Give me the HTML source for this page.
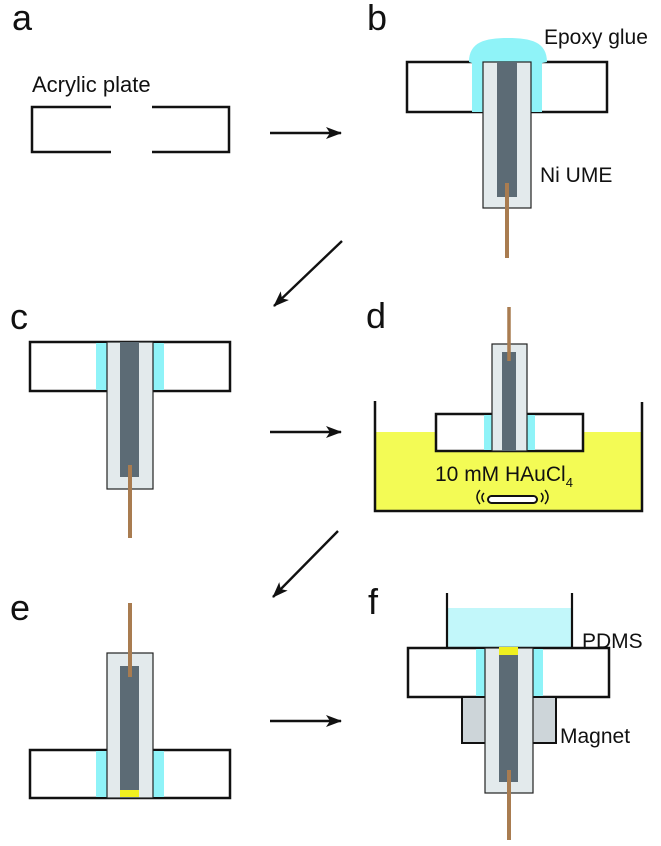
<!DOCTYPE html>
<html><head><meta charset="utf-8"><style>
html,body{margin:0;padding:0;background:#fff}
svg{display:block}
text{font-family:"Liberation Sans",Arial,sans-serif;fill:#111}
</style></head><body>
<svg width="661" height="846" viewBox="0 0 661 846" xmlns="http://www.w3.org/2000/svg">
<defs>
<marker id="ah" markerWidth="16" markerHeight="12" refX="15" refY="6" orient="auto" markerUnits="userSpaceOnUse">
<path d="M0,0 L16,6 L0,12 L4,6 Z" fill="#111"/>
</marker>
</defs>
<g stroke-linecap="butt">
<text x="12" y="30" font-size="36">a</text>
<text x="367" y="30" font-size="36">b</text>
<text x="10" y="329" font-size="36">c</text>
<text x="366" y="328" font-size="36">d</text>
<text x="10" y="620" font-size="36">e</text>
<text x="368" y="614" font-size="36">f</text>

<g stroke="#111" stroke-width="2.4" fill="none">
<line x1="270" y1="133" x2="341" y2="133" marker-end="url(#ah)"/>
<line x1="342" y1="241" x2="274" y2="306" marker-end="url(#ah)"/>
<line x1="270" y1="432" x2="341" y2="432" marker-end="url(#ah)"/>
<line x1="338" y1="531" x2="273" y2="597" marker-end="url(#ah)"/>
<line x1="270" y1="721" x2="341" y2="721" marker-end="url(#ah)"/>
</g>

<text x="32" y="92" font-size="22">Acrylic plate</text>
<path d="M111,107 H32 V152 H111 M152,107 H229 V152 H152" fill="none" stroke="#111" stroke-width="2.5"/>

<rect x="407" y="62" width="200" height="50" fill="#fff" stroke="#111" stroke-width="2.5"/>
<path d="M469,62 C469,42 485,38 508,38 C531,38 547,42 547,62 L542,63 V112 H472 V63 Z" fill="#8ff3f8"/>
<rect x="483" y="62" width="48" height="146" fill="#e3eaec" stroke="#222" stroke-width="1.2"/>
<rect x="497" y="62" width="20" height="135" fill="#5c6b75"/>
<line x1="507" y1="183" x2="507" y2="258" stroke="#a97c50" stroke-width="4"/>
<text x="544" y="44" font-size="21">Epoxy glue</text>
<text x="540" y="182" font-size="21">Ni UME</text>

<rect x="30" y="342" width="200" height="49" fill="#fff" stroke="#111" stroke-width="2.5"/>
<rect x="96" y="343" width="11" height="47" fill="#8ff3f8"/>
<rect x="153" y="343" width="11" height="47" fill="#8ff3f8"/>
<rect x="107" y="342" width="46" height="147" fill="#e3eaec" stroke="#222" stroke-width="1.2"/>
<rect x="120" y="342" width="19" height="135" fill="#5c6b75"/>
<line x1="130" y1="465" x2="130" y2="538" stroke="#a97c50" stroke-width="4"/>

<rect x="375" y="432" width="267" height="79" fill="#f3fb55"/>
<path d="M375,401 V511 H642 V402" fill="none" stroke="#111" stroke-width="2.5"/>
<rect x="436" y="414" width="147" height="37" fill="#fff" stroke="#111" stroke-width="2.5"/>
<rect x="484" y="415" width="8" height="35" fill="#8ff3f8"/>
<rect x="527" y="415" width="8" height="35" fill="#8ff3f8"/>
<rect x="492" y="344" width="35" height="107" fill="#e3eaec" stroke="#222" stroke-width="1.2"/>
<rect x="502" y="352" width="14" height="99" fill="#5c6b75"/>
<line x1="509" y1="307" x2="509" y2="361" stroke="#a97c50" stroke-width="3.5"/>
<text x="435" y="481" font-size="21">10 mM HAuCl<tspan font-size="13" dy="6">4</tspan></text>
<rect x="488" y="496" width="49" height="7" rx="3.5" fill="#fff" stroke="#111" stroke-width="2"/>
<g fill="none" stroke="#111" stroke-width="1.5">
<path d="M484,493 Q480,497 484,502"/><path d="M480,490 Q474,497 480,504"/>
<path d="M541,493 Q545,497 541,502"/><path d="M545,490 Q551,497 545,504"/>
</g>

<rect x="30" y="750" width="200" height="48" fill="#fff" stroke="#111" stroke-width="2.5"/>
<rect x="96" y="751" width="11" height="46" fill="#8ff3f8"/>
<rect x="153" y="751" width="11" height="46" fill="#8ff3f8"/>
<rect x="107" y="653" width="46" height="145" fill="#e3eaec" stroke="#222" stroke-width="1.2"/>
<rect x="120" y="666" width="19" height="132" fill="#5c6b75"/>
<rect x="120" y="790" width="19" height="7" fill="#f0f020"/>
<line x1="130" y1="603" x2="130" y2="677" stroke="#a97c50" stroke-width="4"/>

<rect x="447" y="608" width="125" height="40" fill="#c2f7fa"/>
<path d="M447,593 V648 M572,593 V648" stroke="#111" stroke-width="2.2"/>
<rect x="408" y="648" width="201" height="49" fill="#fff" stroke="#111" stroke-width="2.5"/>
<rect x="476" y="649" width="9" height="47" fill="#8ff3f8"/>
<rect x="533" y="649" width="10" height="47" fill="#8ff3f8"/>
<rect x="462" y="697" width="94" height="46" fill="#cdd5d9" stroke="#111" stroke-width="2"/>
<rect x="485" y="648" width="48" height="145" fill="#e3eaec" stroke="#222" stroke-width="1.2"/>
<rect x="499" y="655" width="19" height="127" fill="#5c6b75"/>
<rect x="499" y="647" width="19" height="8" fill="#f0f020"/>
<line x1="509" y1="770" x2="509" y2="840" stroke="#a97c50" stroke-width="4"/>
<text x="582" y="648" font-size="21">PDMS</text>
<text x="560" y="743" font-size="21">Magnet</text>
</g>
</svg>
</body></html>
